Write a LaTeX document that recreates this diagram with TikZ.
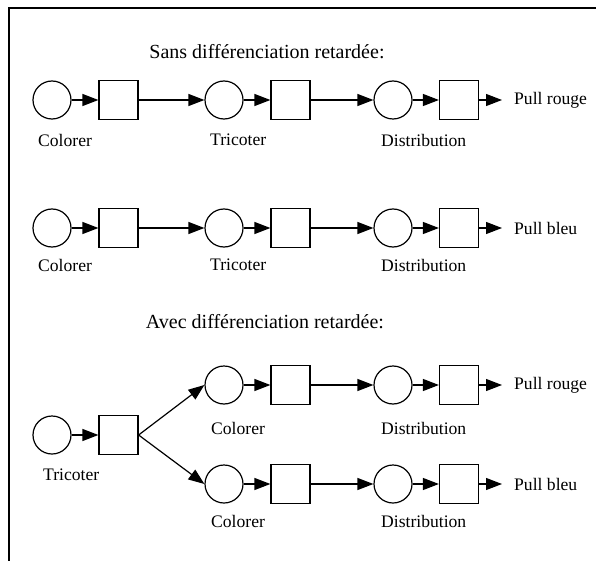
\documentclass[tikz,border=0pt]{standalone}
\usepackage{fontspec}
\setmainfont{Liberation Serif}
\usetikzlibrary{positioning,arrows.meta}

\begin{document}
\begin{tikzpicture}[
    x=1pt, y=-1pt,
    place/.style={circle, draw, line width=1.2pt, minimum size=38pt, inner sep=0pt},
    trans/.style={rectangle, draw, line width=1.2pt, minimum size=39pt, inner sep=0pt},
    flow/.style={line width=1.2pt, -{Triangle[length=16pt, width=12pt]}},
    lbl/.style={font=\fontsize{17.6}{20}\selectfont, anchor=west, inner sep=0pt},
    heading/.style={font=\fontsize{20}{24}\selectfont, inner sep=0pt},
]
\useasboundingbox (0,0) rectangle (596,561);
\draw[line width=2pt] (9,561) -- (9,8) -- (596,8);

% Sans differenciation retardee
\node[heading] (t1) at (267,52) {Sans différenciation retardée:};
\foreach \r/\y/\ly/\pull in {a/100/140/Pull rouge, b/228/265/Pull bleu} {
    \node[place] (c1\r) at (52,\y) {};
    \node[trans] (s1\r) at (118.5,\y) {};
    \node[place] (c2\r) at (224,\y) {};
    \node[trans] (s2\r) at (290.5,\y) {};
    \node[place] (c3\r) at (393,\y) {};
    \node[trans] (s3\r) at (459,\y) {};
    \coordinate (o\r) at (502,\y);
    \node[lbl] (p\r) at (514,\y) {\pull};
    \node[lbl] (l1\r) at (38,\ly) {Colorer};
    \node[lbl] (l2\r) at (210,\ly) {Tricoter};
    \node[lbl] (l3\r) at (381,\ly) {Distribution};
    \draw[flow] (c1\r) -- (s1\r);
    \draw[flow] (s1\r) -- (c2\r);
    \draw[flow] (c2\r) -- (s2\r);
    \draw[flow] (s2\r) -- (c3\r);
    \draw[flow] (c3\r) -- (s3\r);
    \draw[flow] (s3\r) -- (o\r);
}

% Avec differenciation retardee
\node[heading] (t2) at (265,322) {Avec différenciation retardée:};
\node[place] (c0) at (52,435) {};
\node[trans] (s0) at (118.5,435) {};
\node[lbl] (l0) at (43,475) {Tricoter};
\draw[flow] (c0) -- (s0);
\foreach \r/\y/\ly/\pull in {c/385/428/Pull rouge, d/484/521/Pull bleu} {
    \node[place] (c2\r) at (224,\y) {};
    \node[trans] (s2\r) at (290.5,\y) {};
    \node[place] (c3\r) at (393,\y) {};
    \node[trans] (s3\r) at (459,\y) {};
    \coordinate (o\r) at (502,\y);
    \node[lbl] (p\r) at (514,\y) {\pull};
    \node[lbl] (l2\r) at (211,\ly) {Colorer};
    \node[lbl] (l3\r) at (381,\ly) {Distribution};
    \draw[flow] (s0.east) -- (c2\r.west);
    \draw[flow] (c2\r) -- (s2\r);
    \draw[flow] (s2\r) -- (c3\r);
    \draw[flow] (c3\r) -- (s3\r);
    \draw[flow] (s3\r) -- (o\r);
}
\end{tikzpicture}
\end{document}
